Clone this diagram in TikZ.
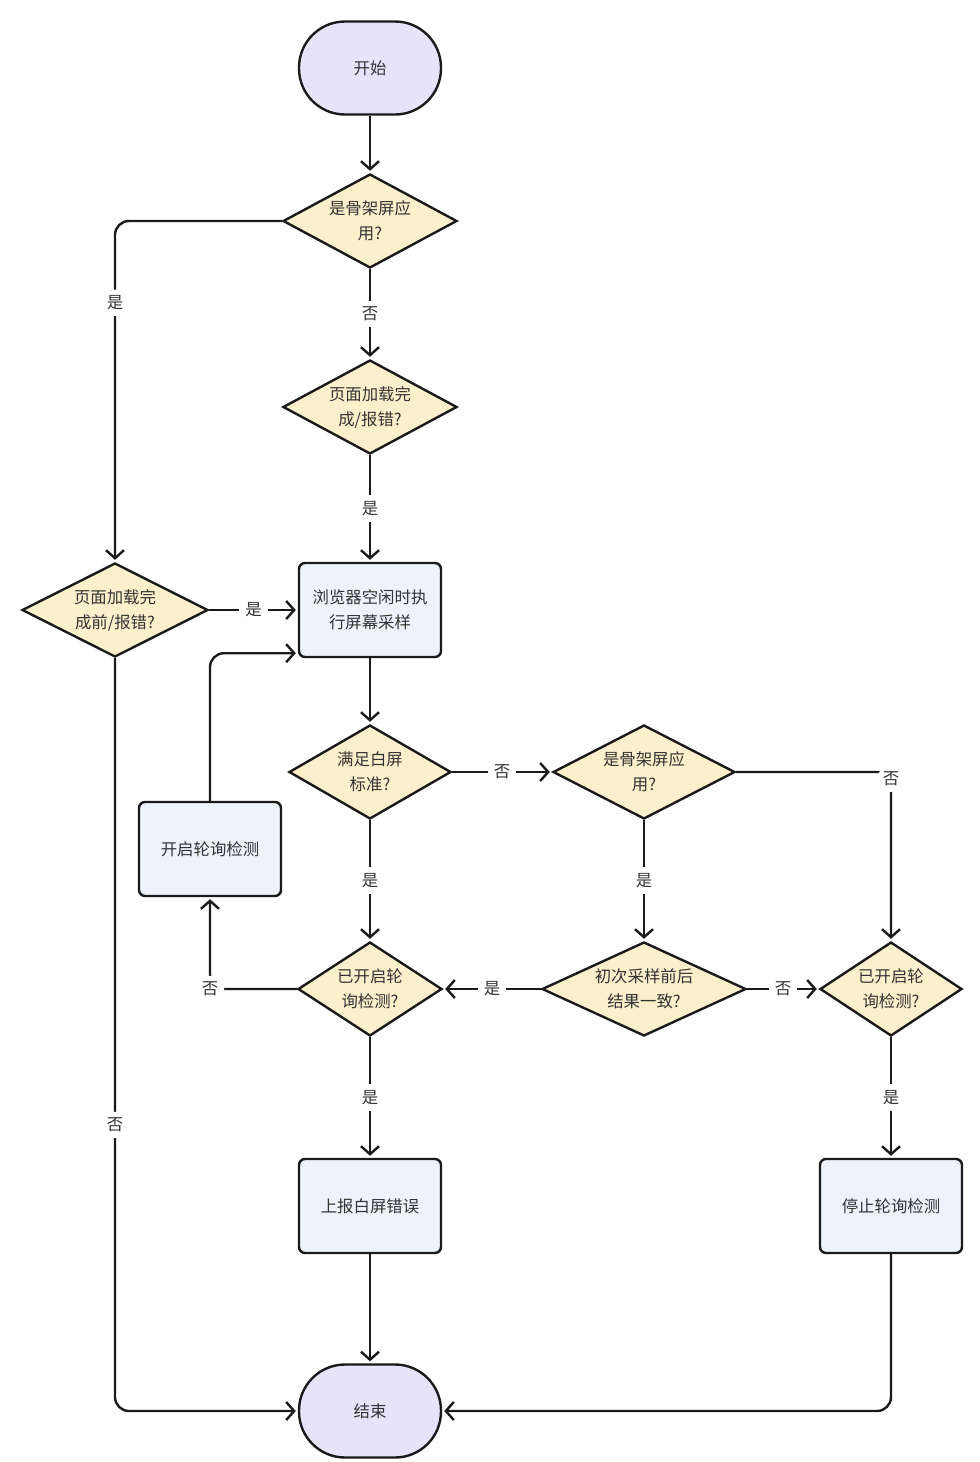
\documentclass[tikz,border=0pt]{standalone}
\usepackage{fontspec}
\setmainfont{Noto Sans CJK SC}
\usetikzlibrary{shapes.geometric,arrows.meta}

\definecolor{termfill}{HTML}{E6E3FA}
\definecolor{condfill}{HTML}{FCEFCC}
\definecolor{boxfill}{HTML}{EEF2FB}
\definecolor{ink}{HTML}{1A1A1A}
\definecolor{txt}{HTML}{333333}

\tikzset{
  base/.style={draw=ink, line width=1.2pt, text=txt, font=\fontsize{8.2}{12.5}\selectfont, align=center, inner sep=0pt},
  term/.style={base, fill=termfill, rounded corners=23pt, minimum width=71pt, minimum height=46.5pt},
  cond/.style={base, diamond, aspect=2.2, fill=condfill, minimum height=47pt},
  proc/.style={base, fill=boxfill, rounded corners=3pt, minimum width=71pt, minimum height=47pt},
  arr/.style={draw=ink, line width=1.2pt, shorten >=1pt, -{Straight Barb[length=4pt,width=9pt]}},
  lbl/.style={fill=white, text=txt, font=\fontsize{8.2}{10}\selectfont, inner sep=3pt}
}

\begin{document}
\begin{tikzpicture}[x=0.5pt, y=-0.5pt]
    \useasboundingbox (0,0) rectangle (980,1462);
    % Start and end
    \node[term] (start) at (370,68) {开始};
    \node[term] (finish) at (370,1411) {结束};
    % Decisions
    \node[cond, minimum width=87pt] (isskel) at (370,221) {是骨架屏应\\用?};
    \node[cond, minimum width=86pt] (loaded) at (370,407) {页面加载完\\成/报错?};
    \node[cond, minimum width=93pt] (loadedbefore) at (115,610) {页面加载完\\成前/报错?};
    \node[cond, minimum width=81pt] (white) at (370,772) {满足白屏\\标准?};
    \node[cond, minimum width=91pt] (isskel2) at (644,772) {是骨架屏应\\用?};
    \node[cond, aspect=1.75, minimum width=72pt] (polled) at (370,989) {已开启轮\\询检测?};
    \node[cond, minimum width=102pt] (same) at (644,989) {初次采样前后\\结果一致?};
    \node[cond, aspect=1.75, minimum width=71pt] (polled2) at (891,989) {已开启轮\\询检测?};
    % Boxes
    \node[proc] (sample) at (370,610) {浏览器空闲时执\\行屏幕采样};
    \node[proc] (poll) at (210,849) {开启轮询检测};
    \node[proc] (report) at (370,1206) {上报白屏错误};
    \node[proc] (stoppoll) at (891,1206) {停止轮询检测};
    % Straight connectors
    \foreach \a/\b in {start/isskel, sample/white, report/finish}
      \draw[arr] (\a) -- (\b);
    \foreach \a/\b/\t in {isskel/loaded/否, loaded/sample/是, loadedbefore/sample/是,
        white/isskel2/否, white/polled/是, isskel2/same/是, same/polled/是,
        same/polled2/否, polled/report/是, polled2/stoppoll/是}
      \draw[arr] (\a) -- node[lbl]{\t} (\b);
    % Connectors with a bend
    \draw[arr, rounded corners=7pt] (isskel.west) -| node[lbl, pos=0.62]{是} (loadedbefore.north);
    \draw[arr, rounded corners=7pt] (loadedbefore.south) |- node[lbl, pos=0.31]{否} (finish.west);
    \draw[arr, rounded corners=7pt] (isskel2.east) -| node[lbl, pos=0.52]{否} (polled2.north);
    \draw[arr, rounded corners=7pt] (polled.west) -| node[lbl]{否} (poll.south);
    \draw[arr, rounded corners=7pt] (poll.north) |- ([yshift=2.5pt]sample.south west);
    \draw[arr, rounded corners=7pt] (stoppoll.south) |- (finish.east);
\end{tikzpicture}
\end{document}
